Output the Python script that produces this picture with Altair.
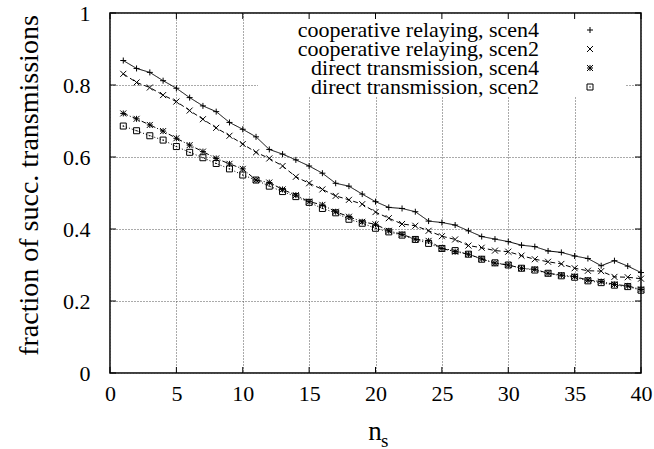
import altair as alt
import pandas as pd

# number of sources on the x axis
n_s = list(range(1, 41))

coop_scen4 = [0.868, 0.846, 0.835, 0.812, 0.791, 0.765, 0.742, 0.726, 0.696, 0.677,
              0.656, 0.621, 0.608, 0.592, 0.575, 0.555, 0.527, 0.519, 0.497, 0.476,
              0.460, 0.457, 0.448, 0.422, 0.418, 0.411, 0.395, 0.379, 0.372, 0.365,
              0.355, 0.351, 0.339, 0.335, 0.325, 0.318, 0.298, 0.312, 0.297, 0.279]
coop_scen2 = [0.831, 0.807, 0.793, 0.772, 0.754, 0.729, 0.705, 0.681, 0.659, 0.636,
              0.613, 0.596, 0.575, 0.545, 0.527, 0.510, 0.492, 0.481, 0.469, 0.447,
              0.430, 0.414, 0.409, 0.395, 0.380, 0.371, 0.354, 0.348, 0.340, 0.337,
              0.326, 0.316, 0.309, 0.303, 0.291, 0.284, 0.283, 0.267, 0.266, 0.262]
direct_scen4 = [0.721, 0.706, 0.689, 0.672, 0.652, 0.633, 0.615, 0.596, 0.581, 0.567,
                0.536, 0.529, 0.510, 0.494, 0.476, 0.467, 0.448, 0.434, 0.420, 0.413,
                0.395, 0.385, 0.372, 0.367, 0.346, 0.337, 0.330, 0.317, 0.305, 0.300,
                0.291, 0.288, 0.277, 0.272, 0.268, 0.258, 0.254, 0.246, 0.242, 0.232]
direct_scen2 = [0.686, 0.673, 0.659, 0.647, 0.629, 0.613, 0.598, 0.582, 0.567, 0.550,
                0.536, 0.519, 0.504, 0.490, 0.474, 0.457, 0.445, 0.427, 0.416, 0.402,
                0.392, 0.383, 0.371, 0.360, 0.346, 0.340, 0.330, 0.316, 0.306, 0.300,
                0.291, 0.286, 0.277, 0.270, 0.266, 0.256, 0.251, 0.244, 0.240, 0.230]

series_names = ["cooperative relaying, scen4", "cooperative relaying, scen2",
                "direct transmission, scen4", "direct transmission, scen2"]
x_ticks = [0, 5, 10, 15, 20, 25, 30, 35, 40]
y_ticks = [0, 0.2, 0.4, 0.6, 0.8, 1]

rows = []
for name, vals in zip(series_names, [coop_scen4, coop_scen2, direct_scen4, direct_scen2]):
    for x, v in zip(n_s, vals):
        rows.append({"n_s": x, "frac": v, "series": name, "style": name})
df = pd.DataFrame(rows)

W, H = 531, 360
FONT = "Liberation Serif"

# point glyphs in the style of gnuplot point types 1-4
PLUS = "M-1,0L1,0M0,-1L0,1"
CROSS = "M-1,-1L1,1M-1,1L1,-1"
STAR = PLUS + CROSS
BOX = "M-1,-1L1,-1L1,1L-1,1Z M-0.25,0L0.25,0"
shape_scale = alt.Scale(domain=series_names, range=[PLUS, CROSS, STAR, BOX])

x_scale = alt.Scale(domain=[0, 40], nice=False, zero=False)
y_scale = alt.Scale(domain=[0, 1], nice=False)

x_axis = alt.Axis(values=x_ticks, title=None, grid=True, ticks=False, domain=False,
                  labelPadding=10, format="d", labelFlush=False)
y_axis = alt.Axis(values=y_ticks, title="fraction of succ. transmissions", grid=True,
                  ticks=False, domain=False, labelPadding=20, format="~g",
                  labelFlush=False, titleFontSize=28, titleAngle=270,
                  titleBaseline="alphabetic", titleAlign="center",
                  titleX=-73, titleY=172)

X = alt.X("n_s:Q", scale=x_scale, axis=x_axis)
Y = alt.Y("frac:Q", scale=y_scale, axis=y_axis)

base = alt.Chart(df)

lines = base.mark_line(color="black", strokeWidth=1).encode(
    x=X, y=Y,
    strokeDash=alt.StrokeDash(
        "style:N",
        scale=alt.Scale(domain=series_names, range=[[1, 0], [5, 3], [5, 2, 1, 2], [1, 2]]),
        legend=None,
    ),
    detail="series:N",
)

points = base.mark_point(filled=False, color="black", strokeWidth=1, size=36, opacity=1).encode(
    x=X, y=Y,
    shape=alt.Shape("series:N", scale=shape_scale, legend=None),
)

# opaque key background hides the grid behind the key
key_bg = alt.Chart(pd.DataFrame({"k": [0]})).mark_rect(color="white").encode(
    x=alt.value(148), x2=alt.value(515), y=alt.value(1), y2=alt.value(84)
)

xt = alt.Chart(pd.DataFrame({"n_s": x_ticks}))
yt = alt.Chart(pd.DataFrame({"frac": y_ticks}))
tick_len = 6
ticks_bottom = xt.mark_rule(color="black", strokeWidth=1).encode(
    x=X, y=alt.value(H), y2=alt.value(H - tick_len))
ticks_top = xt.mark_rule(color="black", strokeWidth=1).encode(
    x=X, y=alt.value(0), y2=alt.value(tick_len))
ticks_left = yt.mark_rule(color="black", strokeWidth=1).encode(
    y=Y, x=alt.value(0), x2=alt.value(tick_len))
ticks_right = yt.mark_rule(color="black", strokeWidth=1).encode(
    y=Y, x=alt.value(W), x2=alt.value(W - tick_len))

# x-axis title: n with subscript s
title_n = alt.Chart(pd.DataFrame({"t": ["n"]})).mark_text(
    font=FONT, fontSize=27, align="center", baseline="alphabetic", color="black"
).encode(text="t:N", x=alt.value(265), y=alt.value(427))
title_s = alt.Chart(pd.DataFrame({"t": ["s"]})).mark_text(
    font=FONT, fontSize=19, align="left", baseline="alphabetic", color="black"
).encode(text="t:N", x=alt.value(271), y=alt.value(434))

main = alt.layer(
    key_bg, lines, points, ticks_bottom, ticks_top, ticks_left, ticks_right, title_n, title_s
)

# key in gnuplot style: right-aligned labels with the point sample to their right
key_df = pd.DataFrame({"series": series_names})
key_rows = alt.Y("series:N", axis=None,
                 scale=alt.Scale(type="point", domain=series_names, range=[17, 74], padding=0))
key_text = alt.Chart(key_df).mark_text(
    font=FONT, fontSize=22, align="right", baseline="middle", color="black"
).encode(text="series:N", x=alt.value(429), y=key_rows)
key_marks = alt.Chart(key_df).mark_point(
    filled=False, color="black", strokeWidth=1, size=36, opacity=1
).encode(x=alt.value(480), y=key_rows, shape=alt.Shape("series:N", scale=shape_scale, legend=None))
key = alt.layer(key_text, key_marks)

chart = alt.layer(main, key).resolve_scale(y="independent").properties(
    width=W, height=H,
    autosize=alt.AutoSizeParams(type="none"),
    padding={"left": 110, "top": 13, "right": 13, "bottom": 76},
    background="white",
).configure_view(
    stroke="black", strokeWidth=1.5
).configure_axis(
    labelFont=FONT, labelFontSize=22, labelColor="black",
    titleFont=FONT, titleFontWeight="normal", titleColor="black",
    gridColor="#555555", gridDash=[1, 2], gridWidth=1, gridOpacity=1,
)

chart.save("out.html", embed_options={"renderer": "svg", "actions": False})
